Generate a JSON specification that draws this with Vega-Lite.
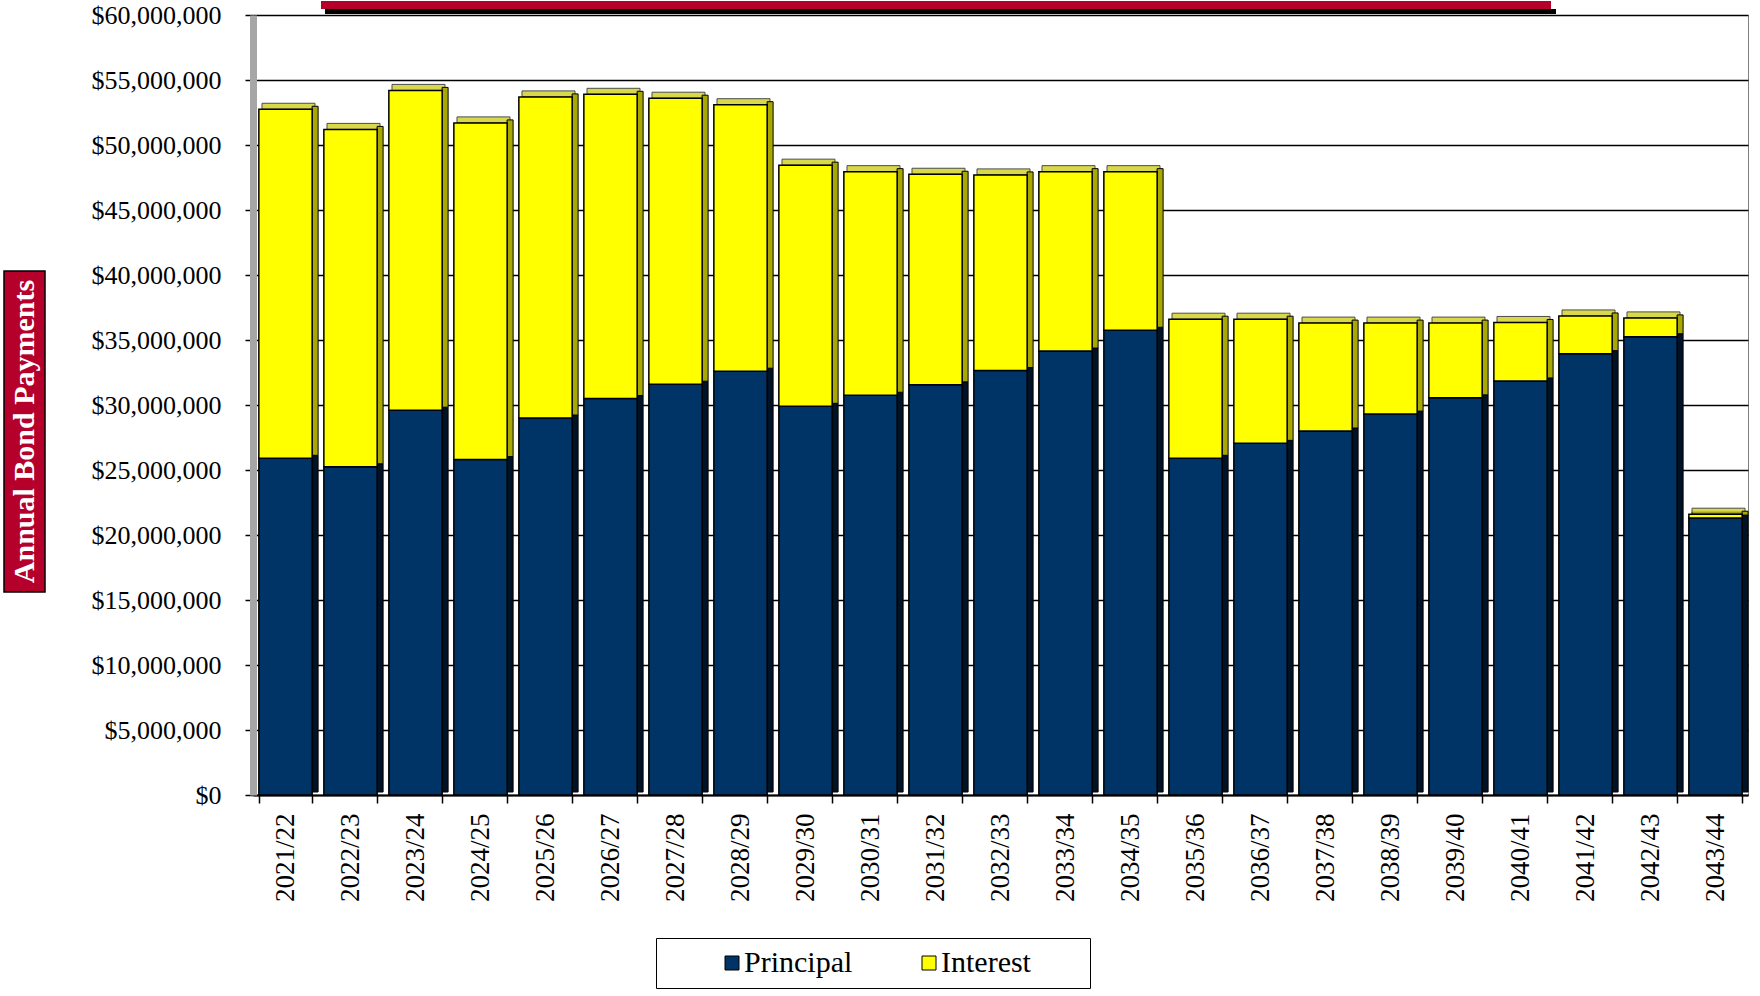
{
  "$schema": "https://vega.github.io/schema/vega-lite/v6.json",
  "background": "white",
  "padding": {"left": 3, "top": 0, "right": 0, "bottom": 0},
  "config": {"view": {"stroke": null}, "font": "Liberation Serif"},
  "spacing": 44,
  "hconcat": [
    {
      "spacing": 0,
      "vconcat": [
        {"width": 41, "height": 255, "data": {"values": [{"t": ""}]}, "mark": {"type": "text", "opacity": 0}, "encoding": {"text": {"field": "t"}}},
        {
          "width": 41, "height": 321,
          "view": {"fill": "#B5002B", "stroke": "#000000", "strokeWidth": 1.5},
          "data": {"values": [{"t": "Annual Bond Payments"}]},
          "mark": {"type": "text", "angle": 270, "color": "#FFFFFF", "font": "Liberation Serif", "fontWeight": "bold", "fontSize": 30},
          "encoding": {"text": {"field": "t"}}
        }
      ]
    },
    {
      "width": 1495,
      "height": 780,
      "view": {"stroke": "#7f7f7f", "strokeWidth": 1},
      "layer": [
        {
          "data": {
            "values": [
              {"year": "2021/22", "Principal": 25900000, "Interest": 26850000},
              {"year": "2022/23", "Principal": 25250000, "Interest": 25950000},
              {"year": "2023/24", "Principal": 29600000, "Interest": 24600000},
              {"year": "2024/25", "Principal": 25800000, "Interest": 25900000},
              {"year": "2025/26", "Principal": 29000000, "Interest": 24700000},
              {"year": "2026/27", "Principal": 30500000, "Interest": 23400000},
              {"year": "2027/28", "Principal": 31600000, "Interest": 22000000},
              {"year": "2028/29", "Principal": 32600000, "Interest": 20500000},
              {"year": "2029/30", "Principal": 29900000, "Interest": 18550000},
              {"year": "2030/31", "Principal": 30750000, "Interest": 17200000},
              {"year": "2031/32", "Principal": 31550000, "Interest": 16200000},
              {"year": "2032/33", "Principal": 32650000, "Interest": 15050000},
              {"year": "2033/34", "Principal": 34150000, "Interest": 13800000},
              {"year": "2034/35", "Principal": 35750000, "Interest": 12200000},
              {"year": "2035/36", "Principal": 25900000, "Interest": 10700000},
              {"year": "2036/37", "Principal": 27050000, "Interest": 9550000},
              {"year": "2037/38", "Principal": 28000000, "Interest": 8300000},
              {"year": "2038/39", "Principal": 29300000, "Interest": 7000000},
              {"year": "2039/40", "Principal": 30550000, "Interest": 5750000},
              {"year": "2040/41", "Principal": 31850000, "Interest": 4500000},
              {"year": "2041/42", "Principal": 33950000, "Interest": 2900000},
              {"year": "2042/43", "Principal": 35250000, "Interest": 1450000},
              {"year": "2043/44", "Principal": 21300000, "Interest": 300000}
            ]
          },
          "transform": [{"fold": ["Principal", "Interest"], "as": ["type", "amount"]}],
          "encoding": {
            "x": {
              "field": "year", "type": "nominal", "sort": null,
              "scale": {"paddingInner": 0.18, "paddingOuter": 0.09},
              "axis": {
                "title": null, "labelAngle": -90, "labelFont": "Liberation Serif", "labelFontSize": 27, "labelColor": "#000000",
                "tickBand": "extent", "tickColor": "#000000", "tickSize": 8, "tickWidth": 1.5, "labelPadding": 10,
                "domainColor": "#000000", "domainWidth": 2, "grid": false, "labelOverlap": false, "labelFlush": false
              }
            },
            "y": {
              "field": "amount", "type": "quantitative", "stack": "zero",
              "scale": {"domain": [0, 60000000], "nice": false},
              "axis": {
                "title": null,
                "values": [0, 5000000, 10000000, 15000000, 20000000, 25000000, 30000000, 35000000, 40000000, 45000000, 50000000, 55000000, 60000000],
                "format": "$,.0f", "labelFont": "Liberation Serif", "labelFontSize": 26, "labelColor": "#000000",
                "tickColor": "#000000", "tickSize": 8, "tickWidth": 1.5, "labelPadding": 24,
                "grid": true, "gridColor": "#000000", "gridWidth": 1.5,
                "domainColor": "#a6a6a6", "domainWidth": 7
              }
            },
            "order": {"field": "type", "type": "ordinal", "sort": "descending"},
            "detail": {"field": "type", "type": "nominal"}
          },
          "layer": [
            {
              "mark": {"type": "tick", "size": 53, "thickness": 6, "xOffset": 3, "yOffset": -3, "stroke": "#000000", "strokeWidth": 1},
              "encoding": {"color": {"condition": {"test": "datum.type === 'Principal'", "value": "#002244"}, "value": "#C8C800"}}
            },
            {
              "mark": {"type": "bar", "width": 6, "xOffset": 29.6, "yOffset": -3, "y2Offset": -3, "stroke": "#000000", "strokeWidth": 1},
              "encoding": {"color": {"condition": {"test": "datum.type === 'Principal'", "value": "#001226"}, "value": "#A8A800"}}
            },
            {
              "mark": {"type": "bar", "stroke": "#000000", "strokeWidth": 1.5},
              "encoding": {
                "color": {
                  "field": "type", "type": "nominal",
                  "scale": {"domain": ["Principal", "Interest"], "range": ["#003366", "#FFFF00"]},
                  "legend": {
                    "title": "MM", "titleOrient": "right", "titleColor": "#FFFFFF", "titleFont": "Liberation Serif",
                    "titleFontSize": 27, "titleFontWeight": "normal", "titlePadding": 0,
                    "orient": "none", "legendX": 652, "legendY": 923, "direction": "horizontal",
                    "strokeColor": "#000000", "fillColor": "#FFFFFF", "padding": 10,
                    "symbolType": "square", "symbolSize": 196, "symbolStrokeColor": "#000000", "symbolStrokeWidth": 1,
                    "labelFont": "Liberation Serif", "labelFontSize": 30, "labelColor": "#000000",
                    "symbolOffset": 51, "labelOffset": -3, "columnPadding": 10, "labelLimit": 400
                  }
                }
              }
            }
          ]
        },
        {
          "data": {"values": [{"box": "title"}]},
          "mark": {"type": "rect", "color": "#000000", "xOffset": 39.5, "x2Offset": 35.5},
          "encoding": {
            "x": {"datum": "2021/22", "type": "nominal"},
            "x2": {"datum": "2040/41"},
            "y": {"datum": 60460000, "type": "quantitative"},
            "y2": {"datum": 60080000}
          }
        },
        {
          "data": {"values": [{"box": "title"}]},
          "mark": {"type": "rect", "color": "#B5002B", "xOffset": 35.5, "x2Offset": 30.5},
          "encoding": {
            "x": {"datum": "2021/22", "type": "nominal"},
            "x2": {"datum": "2040/41"},
            "y": {"datum": 61080000, "type": "quantitative"},
            "y2": {"datum": 60460000}
          }
        }
      ]
    }
  ]
}
